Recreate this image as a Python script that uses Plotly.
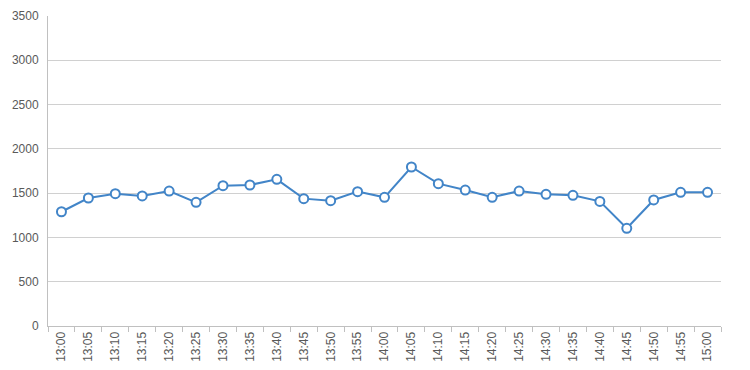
import plotly.graph_objects as go

times = ["13:00", "13:05", "13:10", "13:15", "13:20", "13:25", "13:30", "13:35", "13:40",
         "13:45", "13:50", "13:55", "14:00", "14:05", "14:10", "14:15", "14:20", "14:25",
         "14:30", "14:35", "14:40", "14:45", "14:50", "14:55", "15:00"]
values = [1290, 1445, 1494, 1468, 1524, 1396, 1584, 1592, 1656,
          1438, 1415, 1517, 1453, 1795, 1607, 1535, 1453, 1524,
          1487, 1475, 1407, 1103, 1423, 1509, 1509]
y_ticks = [0, 500, 1000, 1500, 2000, 2500, 3000, 3500]

fig = go.Figure(go.Scatter(
    x=times, y=values, mode="lines+markers",
    line=dict(color="#4285c8", width=2),
    marker=dict(symbol="circle", size=9, color="white",
                line=dict(color="#4285c8", width=2)),
    cliponaxis=False,
))

# page body has ~8px default margin; compensate in figure margins
fig.update_layout(
    width=750, height=370,
    margin=dict(l=40, r=37, t=8, b=52),
    paper_bgcolor="white", plot_bgcolor="white",
    showlegend=False,
    font=dict(family="Liberation Sans, Arial, sans-serif", size=12, color="#595959"),
)
fig.update_xaxes(
    type="category", tickangle=-90, tickson="boundaries",
    range=[-0.5, len(times) - 0.5], automargin=False,
    ticks="outside", ticklen=5, tickcolor="#c0c0c0",
    showline=True, linecolor="#c0c0c0", linewidth=1,
    showgrid=False, tickfont=dict(size=12, color="#595959"),
)
fig.update_yaxes(
    range=[0, 3500], tickvals=y_ticks, automargin=False,
    showgrid=True, gridcolor="#d0d0d0", gridwidth=1,
    showline=True, linecolor="#c0c0c0", linewidth=1,
    zeroline=False, ticks="", ticklabelstandoff=6,
    tickfont=dict(size=12, color="#595959"),
)

fig.write_html("out.html")
